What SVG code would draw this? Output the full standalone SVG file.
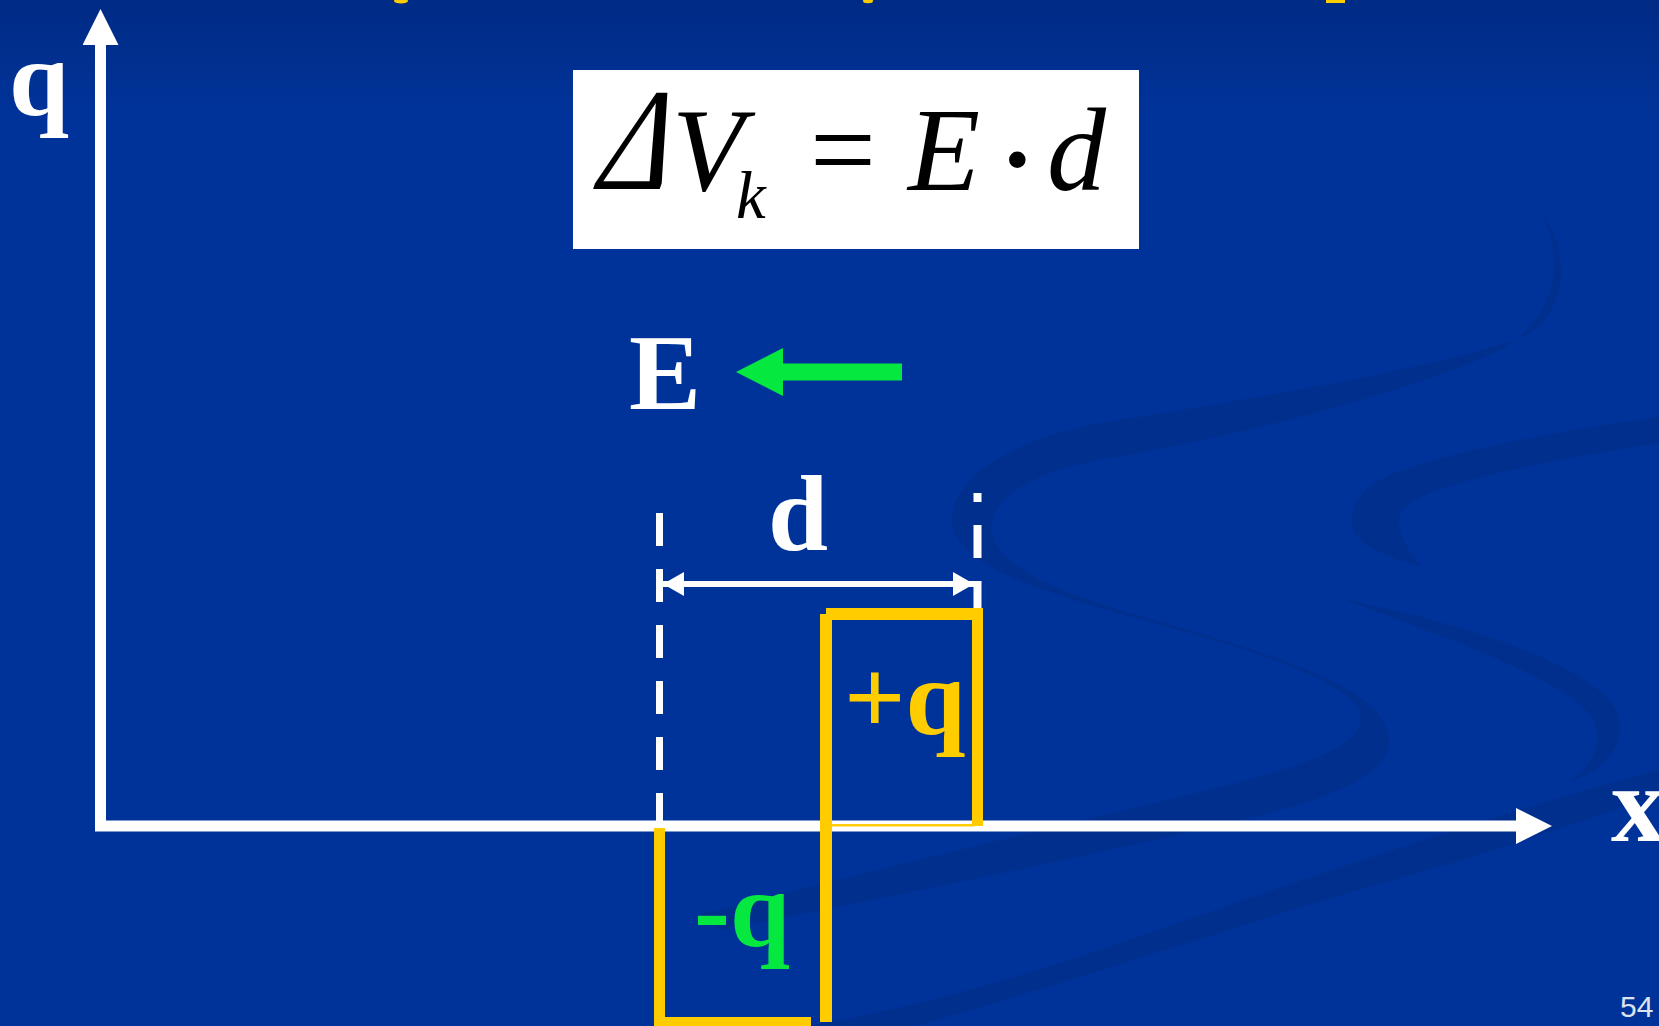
<svg xmlns="http://www.w3.org/2000/svg" width="1659" height="1026" viewBox="0 0 1659 1026">
  <defs>
    <linearGradient id="bg" x1="0" y1="0" x2="0" y2="1">
      <stop offset="0" stop-color="#002b85"/>
      <stop offset="0.11" stop-color="#003399"/>
      <stop offset="1" stop-color="#003399"/>
    </linearGradient>
    <marker id="axisHead" markerUnits="userSpaceOnUse" viewBox="0 0 36 36" markerWidth="36" markerHeight="36" refX="0" refY="18" orient="auto-start-reverse">
      <path d="M0,0 L36,18 L0,36 Z" fill="#ffffff"/>
    </marker>
    <marker id="dimHead" markerUnits="userSpaceOnUse" viewBox="0 0 21 24" markerWidth="21" markerHeight="24" refX="21" refY="12" orient="auto-start-reverse">
      <path d="M0,0 L21,12 L0,24 Z" fill="#ffffff"/>
    </marker>
    <marker id="fieldHead" markerUnits="userSpaceOnUse" viewBox="0 0 47 48" markerWidth="47" markerHeight="48" refX="0" refY="24" orient="auto">
      <path d="M0,0 L47,24 L0,48 Z" fill="#05e840"/>
    </marker>
  </defs>
  <style>
    .lbl { font-family: "Liberation Serif", "Times New Roman", serif; font-weight: bold; font-size: 108px; }
    .math { font-family: "Liberation Serif", "Times New Roman", serif; font-style: italic; fill: #000000; }
    .up { font-family: "Liberation Serif", "Times New Roman", serif; fill: #000000; }
    .swirl { fill: #002f8e; }
    .axis { fill: none; stroke: #ffffff; stroke-width: 11; }
    .dash { fill: none; stroke: #ffffff; stroke-dasharray: 33 23; }
    .yel { fill: #ffcc00; }
  </style>

  <!-- background -->
  <rect x="0" y="0" width="1659" height="1026" fill="url(#bg)"/>

  <!-- decorative swirls -->
  <g id="decor">
    <path class="swirl" d="M1542,215 C1572,252 1566,312 1528,334 C1478,358 1300,392 1100,423 C1010,440 952,478 952,520 C953,562 1030,590 1150,622 C1262,652 1348,682 1360,712 C1370,745 1300,768 1200,792 C1060,826 880,868 700,915 L720,930 C900,895 1080,858 1250,818 C1360,792 1400,762 1387,730 C1376,690 1292,660 1172,625 C1052,592 990,565 992,525 C994,490 1050,468 1110,458 C1300,425 1450,375 1500,350 C1556,318 1566,262 1542,215 Z"/>
    <path class="swirl" d="M1659,417 C1550,432 1430,455 1380,480 C1345,500 1344,530 1368,546 C1388,557 1408,563 1421,567 C1408,550 1395,530 1400,515 C1410,490 1500,468 1659,443 Z"/>
    <path class="swirl" d="M1340,598 C1450,622 1560,652 1610,700 C1632,732 1616,766 1570,782 C1598,760 1606,735 1588,712 C1548,672 1450,640 1340,598 Z"/>
    <path class="swirl" d="M1659,770 C1500,812 1300,880 1100,950 C950,1000 850,1020 780,1030 L900,1030 C1050,990 1250,920 1400,878 C1500,850 1600,815 1659,795 Z"/>
    <!-- cut-off title fragments at top edge -->
    <ellipse cx="401" cy="1" rx="7" ry="2.5" fill="#ffcc00"/>
    <ellipse cx="868" cy="1" rx="5" ry="2.2" fill="#ffcc00"/>
    <rect x="1326" y="0" width="19" height="3" fill="#ffcc00"/>
  </g>

  <!-- connectors: axes, dimension, field arrow, dashed guides -->
  <g id="connectors">
    <path class="axis" d="M100.5,45 V826 H1516" marker-start="url(#axisHead)" marker-end="url(#axisHead)"/>
    <line class="dash" x1="659.5" y1="513" x2="659.5" y2="826" stroke-width="7"/>
    <line class="dash" x1="977.5" y1="493" x2="977.5" y2="614" stroke-width="8" stroke-dashoffset="24"/>
    <line x1="663" y1="584" x2="974" y2="584" stroke="#ffffff" stroke-width="6" marker-start="url(#dimHead)" marker-end="url(#dimHead)"/>
    <line x1="902" y1="372" x2="783" y2="372" stroke="#05e840" stroke-width="17" marker-end="url(#fieldHead)"/>
  </g>

  <!-- charge boxes -->
  <g id="plus-box">
    <rect class="yel" x="820" y="614" width="12" height="408"/>
    <rect class="yel" x="826" y="608" width="157" height="12"/>
    <rect class="yel" x="972" y="608" width="11" height="218"/>
    <rect class="yel" x="832" y="824" width="142" height="2.5"/>
  </g>
  <g id="minus-box">
    <rect class="yel" x="654" y="828" width="11" height="194"/>
    <rect class="yel" x="654" y="1017" width="157" height="12"/>
  </g>

  <!-- formula -->
  <g id="formula">
    <rect x="573" y="70" width="566" height="179" fill="#ffffff"/>
    <text class="math" transform="translate(597,189) skewX(-11)" x="0" y="0" font-size="146" textLength="69" lengthAdjust="spacingAndGlyphs">Δ</text>
    <text class="math" x="672" y="190" font-size="118">V</text>
    <text class="math" x="736" y="218" font-size="67">k</text>
    <text class="up" x="810" y="190" font-size="118" textLength="66" lengthAdjust="spacingAndGlyphs">=</text>
    <text class="math" x="908" y="190" font-size="118">E</text>
    <text class="up" x="994" y="206" font-size="140">·</text>
    <text class="math" x="1047" y="190" font-size="118">d</text>
  </g>

  <!-- labels -->
  <g id="label-q"><text class="lbl" x="9" y="115" fill="#ffffff">q</text></g>
  <g id="label-x"><text class="lbl" x="1611" y="841" fill="#ffffff">x</text></g>
  <g id="label-E"><text class="lbl" x="629" y="409" fill="#ffffff">E</text></g>
  <g id="label-d"><text class="lbl" x="768" y="550" fill="#ffffff">d</text></g>
  <g id="label-plus-q"><text class="lbl" x="844" y="734" fill="#ffcc00">+q</text></g>
  <g id="label-minus-q"><text class="lbl" x="694" y="946" fill="#05e840">-q</text></g>
  <g id="page-number"><text x="1620" y="1017" font-family="Liberation Sans, Arial, sans-serif" font-size="30" fill="#dde3ee">54</text></g>
</svg>
